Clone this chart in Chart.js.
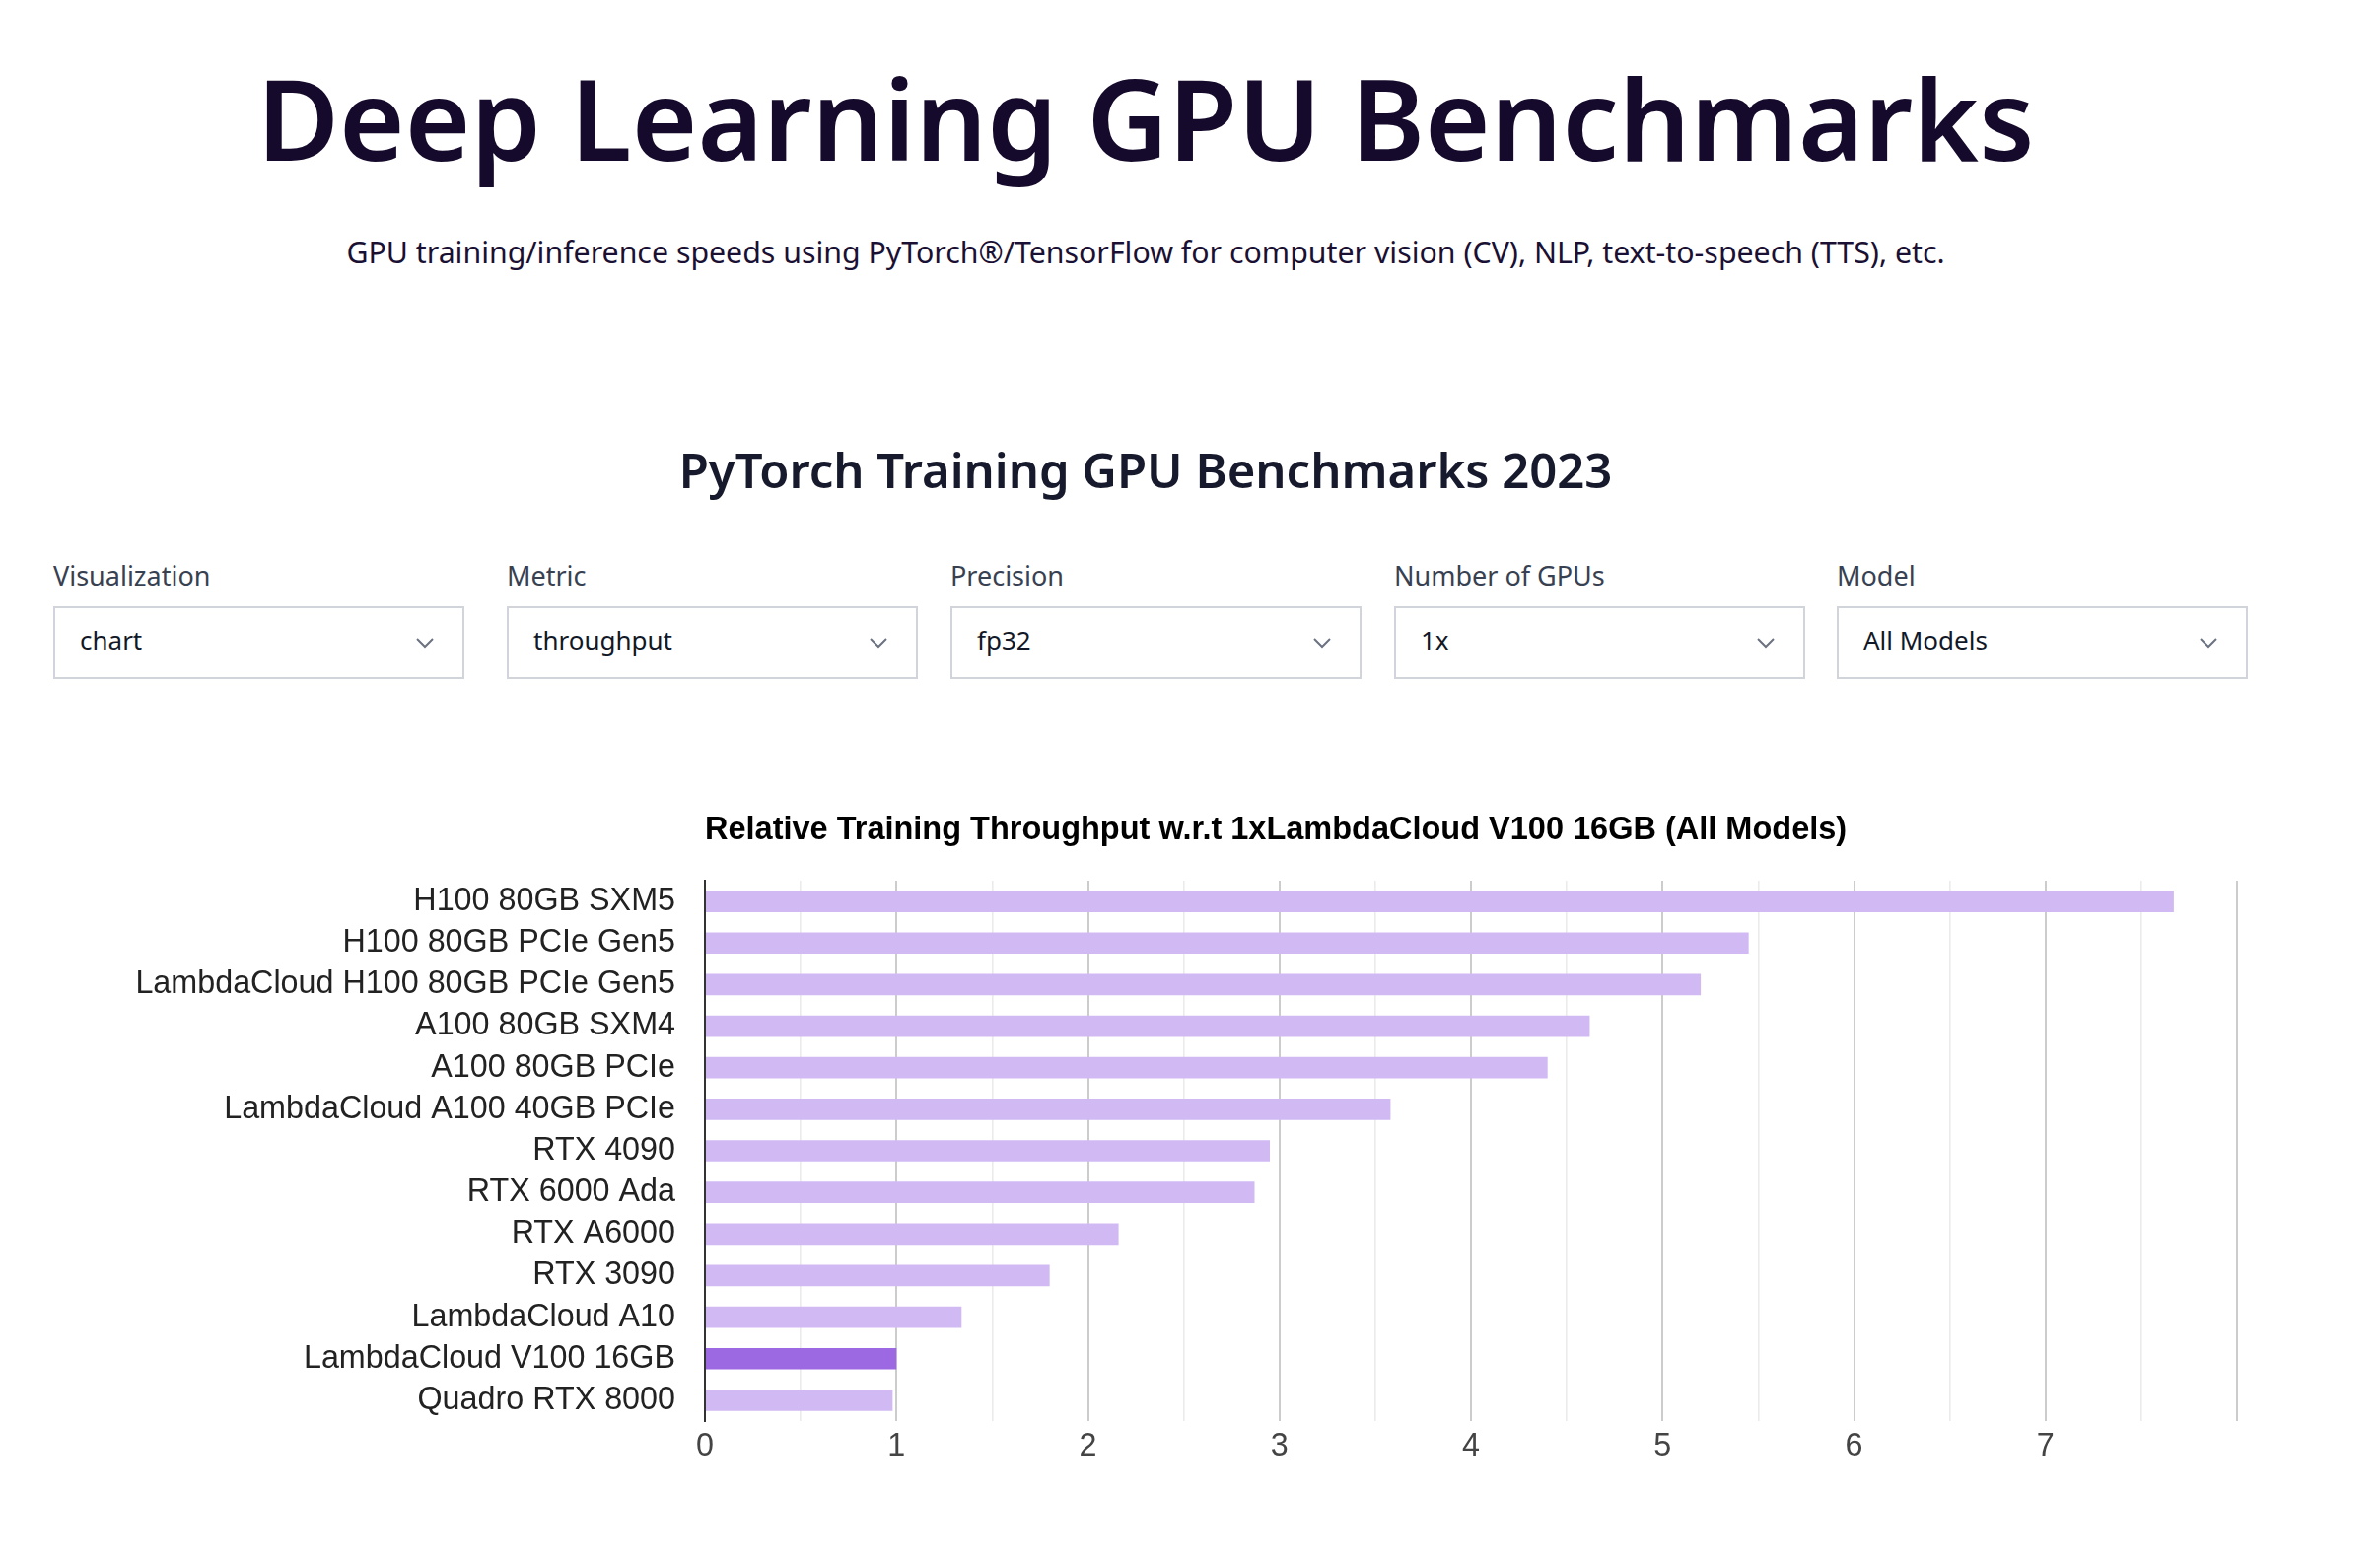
<!DOCTYPE html>
<html>
<head>
<meta charset="utf-8">
<title>Deep Learning GPU Benchmarks</title>
<script src="https://cdn.jsdelivr.net/npm/chart.js@4.4.0/dist/chart.umd.min.js"></script>
<style>
  html, body { margin: 0; padding: 0; background: #fff; }
  body { width: 2414px; height: 1590px; position: relative; overflow: hidden; font-family: "Noto Sans", sans-serif; }
  .center { position: absolute; left: 0; width: 2324px; text-align: center; line-height: 1; white-space: nowrap; }
  #pageTitle { top: 62px; font-size: 114px; font-weight: 600; color: #150a2b; }
  #subTitle { top: 241px; font-size: 30.3px; color: #1a1033; }
  #sectionTitle { top: 452px; font-size: 49px; font-weight: 600; color: #171a2c; }
  .field { position: absolute; top: 570px; width: 417px; }
  .field label { display: block; font-size: 27px; line-height: 1; color: #374151; height: 45px; }
  .field .box { box-sizing: border-box; height: 74px; border: 2px solid #d1d5db; position: relative; }
  .field .box span { position: absolute; left: 25px; top: 19px; font-size: 26px; line-height: 1; color: #111827; }
  .field .box svg { position: absolute; right: 28px; top: 29px; }
  #chartWrap { position: absolute; left: 0; top: 800px; width: 2414px; height: 720px; }
</style>
</head>
<body>
<div id="pageTitle" class="center">Deep Learning GPU Benchmarks</div>
<div id="subTitle" class="center">GPU training/inference speeds using PyTorch®/TensorFlow for computer vision (CV), NLP, text-to-speech (TTS), etc.</div>
<div id="sectionTitle" class="center">PyTorch Training GPU Benchmarks 2023</div>
<div id="filters"></div>
<div id="chartWrap"><canvas id="dataChart"></canvas></div>

<script>
const filterLabels = ["Visualization", "Metric", "Precision", "Number of GPUs", "Model"];
const filterValues = ["chart", "throughput", "fp32", "1x", "All Models"];

const gpuNames = [
  "H100 80GB SXM5",
  "H100 80GB PCIe Gen5",
  "LambdaCloud H100 80GB PCIe Gen5",
  "A100 80GB SXM4",
  "A100 80GB PCIe",
  "LambdaCloud A100 40GB PCIe",
  "RTX 4090",
  "RTX 6000 Ada",
  "RTX A6000",
  "RTX 3090",
  "LambdaCloud A10",
  "LambdaCloud V100 16GB",
  "Quadro RTX 8000",
];
const relThroughput = [7.67, 5.45, 5.2, 4.62, 4.4, 3.58, 2.95, 2.87, 2.16, 1.8, 1.34, 1.0, 0.98];
const referenceGpu = "LambdaCloud V100 16GB";
const xTickLabels = ["0", "1", "2", "3", "4", "5", "6", "7"];

// dropdown row
const filters = document.getElementById("filters");
const fieldLefts = [54, 514, 964, 1414, 1863];
filterLabels.forEach((name, i) => {
  const field = document.createElement("div");
  field.className = "field";
  field.style.left = fieldLefts[i] + "px";
  field.innerHTML =
    `<label>${name}</label>` +
    `<div class="box"><span>${filterValues[i]}</span>` +
    `<svg width="20" height="12" viewBox="0 0 20 12"><polyline points="2,2 10,10 18,2" fill="none" stroke="#6b7280" stroke-width="2"/></svg></div>`;
  filters.appendChild(field);
});

const ctx = document.getElementById("dataChart").getContext("2d");
const labelFont = { family: "'Liberation Sans', Arial, sans-serif", size: 32.3 };

const barChart = new Chart(ctx, {
  type: "bar",
  data: {
    labels: gpuNames,
    datasets: [
      {
        data: relThroughput,
        backgroundColor: gpuNames.map((n) => (n === referenceGpu ? "#9d69e3" : "#d1b9f4")),
        barPercentage: 0.515,
        categoryPercentage: 1,
      },
    ],
  },
  options: {
    indexAxis: "y",
    responsive: true,
    maintainAspectRatio: false,
    animation: false,
    layout: { padding: { left: 0, right: 145, top: 0, bottom: 19 } },
    plugins: {
      legend: { display: false },
      tooltip: { enabled: false },
      title: {
        display: true,
        text: "Relative Training Throughput w.r.t 1xLambdaCloud V100 16GB (All Models)",
        align: "start",
        fullSize: false,
        color: "#000",
        font: { family: labelFont.family, size: 32.5, weight: "bold" },
        padding: { top: 23, bottom: 31 },
      },
    },
    scales: {
      x: {
        min: 0,
        max: 8,
        ticks: {
          stepSize: 0.5,
          autoSkip: false,
          maxRotation: 0,
          padding: 7,
          color: "#444",
          font: labelFont,
          callback: (v) => xTickLabels[v] ?? "",
        },
        grid: {
          drawTicks: false,
          color: (c) => (c.tick && c.tick.value % 1 === 0 ? "#cccccc" : "#ebebeb"),
          lineWidth: (c) => (c.tick && c.tick.value % 1 === 0 ? 2 : 1.6),
        },
        border: { display: false },
        afterFit: (scale) => {
          scale.height = 60;
        },
      },
      y: {
        z: 1,
        ticks: { padding: 30, color: "#222", font: labelFont },
        grid: { display: false, drawTicks: false },
        border: { display: true, color: "#333", width: 2 },
        afterFit: (scale) => {
          scale.width = 715;
        },
      },
    },
  },
});
</script>
</body>
</html>
